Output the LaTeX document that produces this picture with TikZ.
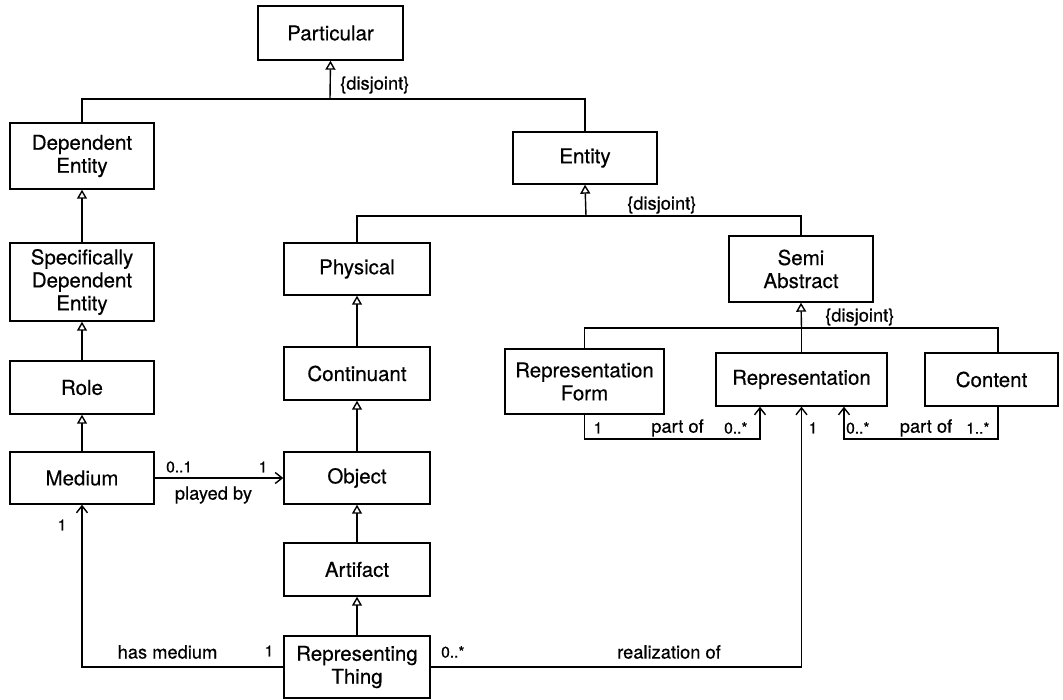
\documentclass[tikz,border=0pt]{standalone}
\usepackage{fontspec}
\setmainfont{TeX Gyre Heros}[FakeBold=0.4]
\usetikzlibrary{arrows.meta}
\begin{document}
\begin{tikzpicture}[x=1pt,y=-1pt,
  every node/.style={inner sep=0pt},
  cls/.style={draw,line width=1.4pt,align=center,
    font=\fontsize{20.5}{23}\selectfont},
  lbl/.style={font=\fontsize{18.3}{20}\selectfont},
  mult/.style={font=\fontsize{15.5}{17}\selectfont},
  wire/.style={line width=1.4pt},
  gen/.style={wire,-{Triangle[open,length=9pt,width=10pt,line width=1.4pt]}},
  assoc/.style={wire,-{Straight Barb[length=7pt,width=11pt,line width=1.4pt]}}]
\useasboundingbox (0,0) rectangle (1063,700);

% class boxes
\node[cls,minimum width=145pt,minimum height=54pt] (part) at (330.5,33) {Particular};
\node[cls,minimum width=144pt,minimum height=66pt] (dep) at (82,156) {Dependent\\Entity};
\node[cls,minimum width=144pt,minimum height=78pt] (sde) at (82,282) {Specifically\\Dependent\\Entity};
\node[cls,minimum width=144pt,minimum height=53pt] (role) at (82,387.5) {Role};
\node[cls,minimum width=144pt,minimum height=52pt] (medium) at (82,478) {Medium};
\node[cls,minimum width=144pt,minimum height=52pt] (entity) at (585,158) {Entity};
\node[cls,minimum width=146pt,minimum height=52pt] (physical) at (357,269) {Physical};
\node[cls,minimum width=146pt,minimum height=53pt] (cont) at (357,373.5) {Continuant};
\node[cls,minimum width=146pt,minimum height=52pt] (object) at (357,478) {Object};
\node[cls,minimum width=146pt,minimum height=53pt] (artifact) at (357,569.5) {Artifact};
\node[cls,minimum width=146pt,minimum height=62pt] (rt) at (357,667) {Representing\\Thing};
\node[cls,minimum width=144pt,minimum height=66pt] (semi) at (801,269) {Semi\\Abstract};
\node[cls,minimum width=159pt,minimum height=65pt] (rf) at (584.5,381.5) {Representation\\Form};
\node[cls,minimum width=171pt,minimum height=53pt] (rep) at (801.5,379.5) {Representation};
\node[cls,minimum width=133pt,minimum height=53pt] (content) at (991.5,379.5) {Content};

% junction points of the generalization sets
\coordinate (j1) at (330,99);
\coordinate (j2) at (586,216);
\coordinate (j3) at (801.5,328);
\coordinate (ctop) at ([xshift=6.5pt]content.north);
\coordinate (cbot) at ([xshift=6.5pt]content.south);
\coordinate (p1) at (760,439);
\coordinate (p2) at (844,439);

% Particular
\draw[wire] (dep.north) |- (j1) -| (entity.north);
\draw[gen] (j1) -- (part.south);
\node[lbl,anchor=west] (d1) at (340,85) {\{disjoint\}};

% Entity
\draw[wire] (physical.north) |- (j2) -| (semi.north);
\draw[gen] (j2) -- (entity.south);
\node[lbl,anchor=west] (d2) at (627,205) {\{disjoint\}};

% Semi Abstract
\draw[wire] (rf.north) |- (j3) -| (ctop);
\draw[wire] (j3) -- (rep.north);
\draw[gen] (j3) -- (semi.south);
\node[lbl,anchor=west] (d3) at (825,317) {\{disjoint\}};

% left column
\draw[gen] (sde.north) -- (dep.south);
\draw[gen] (role.north) -- (sde.south);
\draw[gen] (medium.north) -- (role.south);

% middle column
\draw[gen] (cont.north) -- (physical.south);
\draw[gen] (object.north) -- (cont.south);
\draw[gen] (artifact.north) -- (object.south);
\draw[gen] (rt.north) -- (artifact.south);

% played by
\draw[assoc] (medium.east) -- (object.west);
\node[mult,anchor=west] (m1) at (166,467) {0..1};
\node[mult] (m2) at (263,467) {1};
\node[lbl] (l1) at (213.5,495) {played by};

% has medium
\draw[assoc] (rt.west) -| (medium.south);
\node[mult] (m3) at (62,525) {1};
\node[lbl] (l2) at (167.5,652) {has medium};
\node[mult] (m4) at (269,651) {1};

% realization of
\draw[assoc] (rt.east) -| (rep.south);
\node[mult,anchor=west] (m5) at (441,652) {0..*};
\node[lbl] (l3) at (669,652) {realization of};

% part of (Representation Form)
\draw[assoc] (rf.south) |- (p1) -- (p1 |- rep.south);
\node[mult] (m6) at (598,428) {1};
\node[lbl] (l4) at (677.5,428) {part of};
\node[mult,anchor=west] (m7) at (724,428) {0..*};

% part of (Content)
\draw[assoc] (cbot) |- (p2) -- (p2 |- rep.south);
\node[mult] (m8) at (813,428) {1};
\node[mult,anchor=west] (m9) at (846,428) {0..*};
\node[lbl] (l5) at (926,428) {part of};
\node[mult,anchor=west] (m10) at (966,428) {1..*};
\end{tikzpicture}
\end{document}
